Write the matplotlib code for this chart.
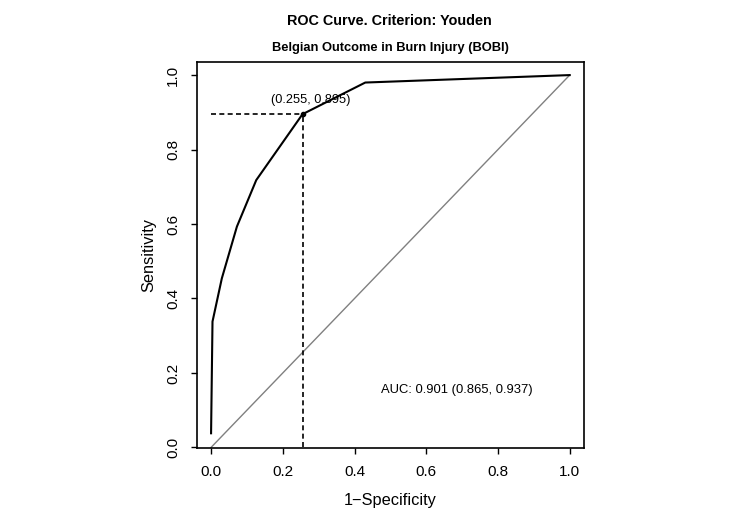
import matplotlib
matplotlib.use("Agg")
import matplotlib.pyplot as plt

plt.rcParams['font.family'] = ['Liberation Sans', 'DejaVu Sans']

# ROC curve points (1-specificity, sensitivity)
fpr = [0.0, 0.004, 0.030, 0.072, 0.126, 0.255, 0.430, 1.0]
tpr = [0.038, 0.338, 0.454, 0.593, 0.718, 0.895, 0.980, 1.0]
cut_x, cut_y = 0.255, 0.895
auc_text = "AUC: 0.901 (0.865, 0.937)"
ticks = [0.0, 0.2, 0.4, 0.6, 0.8, 1.0]

fig = plt.figure(figsize=(7.5, 5.25), dpi=100)
ax = fig.add_axes([0.2623, 0.1467, 0.5164, 0.7358])

ax.plot([0, 1], [0, 1], color="#808080", lw=1.0)
ax.plot(fpr, tpr, color="black", lw=1.5)
ax.plot([0, cut_x], [cut_y, cut_y], color="black", lw=1.2, ls=(0, (3, 2)))
ax.plot([cut_x, cut_x], [0, cut_y], color="black", lw=1.2, ls=(0, (3, 2)))
ax.plot([cut_x], [cut_y], "o", color="black", ms=3)
ax.text(0.279, 0.932, "(%.3f, %.3f)" % (cut_x, cut_y),
        ha="center", va="center", fontsize=9.2)
ax.text(0.686, 0.154, auc_text, ha="center", va="center", fontsize=9.4)

# R style: x axis padded 4 %, y axis sits on the bottom of the box
ax.set_xlim(-0.04, 1.04)
ax.set_ylim(-0.0015, 1.036)
ax.set_xticks(ticks)
ax.set_yticks(ticks)
ax.set_xticklabels(["%.1f" % t for t in ticks])
ax.set_yticklabels(["%.1f" % t for t in ticks], rotation=90, va="center")
ax.tick_params(direction="out", length=4.5, width=1, labelsize=11, pad=7.5)
for s in ax.spines.values():
    s.set_linewidth(1.2)

ax.set_xlabel("1\u2212Specificity", fontsize=11.8, labelpad=10)
ax.set_ylabel("Sensitivity", fontsize=11.8, labelpad=7)

fig.text(0.519, 0.960, "ROC Curve. Criterion: Youden", ha="center", va="center",
         fontsize=10.4, fontweight="bold")
fig.text(0.521, 0.909, "Belgian Outcome in Burn Injury (BOBI)", ha="center",
         va="center", fontsize=9.3, fontweight="bold")

fig.savefig("out.png", dpi=100)
